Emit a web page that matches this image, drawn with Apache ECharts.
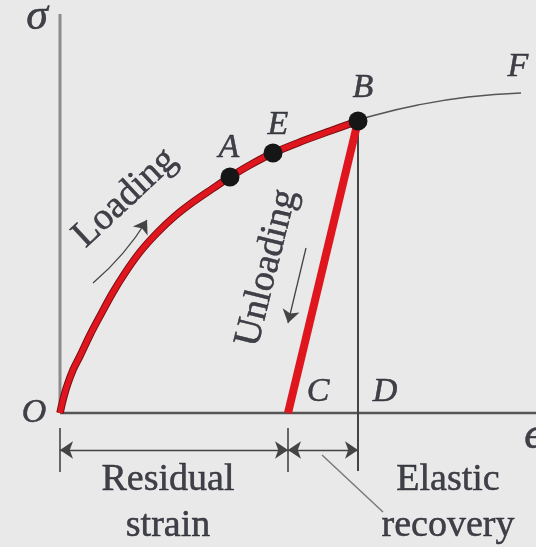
<!DOCTYPE html>
<html>
<head>
<meta charset="utf-8">
<script src="https://cdn.jsdelivr.net/npm/echarts@6/dist/echarts.min.js"></script>
<style>
html, body { margin: 0; padding: 0; background: #e9e9e9; }
#chart { width: 536px; height: 547px; }
</style>
</head>
<body>
<div id="chart"></div>
<script>
// stress-strain curve, units (x: strain, y: stress)
var loading = [[0, 0], [0.06, 0.325], [0.14, 0.675], [0.26, 1.075], [0.4, 1.425], [0.6, 1.95],
  [0.8, 2.425], [1.04, 2.975], [1.3, 3.5], [1.6, 4.025], [1.94, 4.5], [2.3, 4.925],
  [2.66, 5.275], [3.04, 5.6], [3.4, 5.9], [3.8, 6.2], [4.26, 6.5], [4.8, 6.775],
  [5.4, 7.05], [5.96, 7.3]];
var beyond = [[5.96, 7.3], [6.16, 7.4], [7.16, 7.7], [8.16, 7.9], [9.22, 8.0]];
var unloading = [[5.96, 7.3], [4.56, 0]];
var dots = [['A', 3.4, 5.9], ['E', 4.26, 6.5], ['B', 5.96, 7.3]];

var yAxisLine = [[0, 0], [0, 9.975]];
var xAxisLine = [[0, 0], [9.52, 0]];
var lineBD = [[5.96, 7.3], [5.96, -1.45]];
var ticks = [[[0, -0.375], [0, -1.475]], [[4.56, -0.375], [4.56, -1.475]]];
var dimArrows = [[[0, -0.925], [4.56, -0.925]], [[4.56, -0.925], [5.96, -0.925]]];
var leader = [[[5.24, -1.05], [6.46, -2.475]]];
var loadArrow = [[[0.66, 3.25], [1.74, 4.825]]];
var unloadArrow = [[[4.92, 4.125], [4.56, 2.25]]];

// [text, x, y, rotate]
var pointLabels = [['A', 3.38, 6.625], ['E', 4.36, 7.2], ['B', 6.06, 8.125], ['F', 9.16, 8.65],
  ['C', 5.16, 0.525], ['D', 6.5, 0.525], ['O', -0.52, 0]];
var axisLabels = [['σ', -0.46, 9.9], ['ϵ', 9.46, -0.575]];
var textLabels = [['Residual\nstrain', 2.16, -2.25, 0], ['Elastic\nrecovery', 7.76, -2.25, 0],
  ['Loading', 1.3, 5.375, 43], ['Unloading', 4.14, 3.625, 76]];

var chart = echarts.init(document.getElementById('chart'));
var ink = '#15151f';
var serif = "'Times New Roman', 'Liberation Serif', 'DejaVu Serif', serif";

function segs(list) {
  return list.map(function (c) { return { coords: c }; });
}
function labelSeries(list, font) {
  return {
    type: 'scatter',
    symbolSize: 0,
    z: 10,
    silent: true,
    data: list.map(function (d) {
      return {
        name: d[0],
        value: [d[1], d[2]],
        label: { rotate: d[3] || 0 }
      };
    }),
    label: Object.assign({
      show: true,
      position: 'inside',
      formatter: '{b}',
      color: ink,
      textBorderColor: ink,
      textBorderWidth: 0.5,
      fontFamily: serif
    }, font)
  };
}

var option = {
  backgroundColor: '#e9e9e9',
  animation: false,
  grid: { left: 0, right: 0, top: 0, bottom: 0 },
  xAxis: { type: 'value', min: -1.2, max: 9.52, show: false },
  yAxis: { type: 'value', min: -3.35, max: 10.325, show: false },
  series: [
    { type: 'line', data: yAxisLine, symbol: 'none', lineStyle: { color: '#8c8c8c', width: 3 }, z: 1 },
    { type: 'line', data: xAxisLine, symbol: 'none', lineStyle: { color: '#555', width: 2.5 }, z: 1 },
    { type: 'line', data: lineBD, symbol: 'none', lineStyle: { color: '#444', width: 2 }, z: 1 },
    {
      type: 'lines', coordinateSystem: 'cartesian2d', data: segs(ticks), z: 1,
      lineStyle: { color: '#666', width: 2, opacity: 1 }
    },
    {
      type: 'lines', coordinateSystem: 'cartesian2d', data: segs(dimArrows), z: 1,
      symbol: ['arrow', 'arrow'], symbolSize: 13,
      lineStyle: { color: '#444', width: 1.4, opacity: 1 }
    },
    {
      type: 'lines', coordinateSystem: 'cartesian2d', data: segs(leader), z: 1,
      lineStyle: { color: '#777', width: 1.4, opacity: 1 }
    },
    {
      type: 'lines', coordinateSystem: 'cartesian2d', data: segs(loadArrow), z: 1,
      symbol: ['none', 'arrow'], symbolSize: 13,
      lineStyle: { color: '#444', width: 1.3, opacity: 1, curveness: -0.08 }
    },
    {
      type: 'lines', coordinateSystem: 'cartesian2d', data: segs(unloadArrow), z: 1,
      symbol: ['none', 'arrow'], symbolSize: 13,
      lineStyle: { color: '#444', width: 1.3, opacity: 1 }
    },
    { type: 'line', data: beyond, smooth: true, symbol: 'none', lineStyle: { color: '#555', width: 1.5 }, z: 2 },
    { type: 'line', data: loading, smooth: 0.3, symbol: 'none', lineStyle: { color: '#7a0d12', width: 7.5 }, z: 3 },
    { type: 'line', data: loading, smooth: 0.3, symbol: 'none', lineStyle: { color: '#e0161e', width: 5.5 }, z: 4 },
    { type: 'line', data: unloading, symbol: 'none', lineStyle: { color: '#e0161e', width: 8 }, z: 4 },
    {
      type: 'scatter', z: 5, symbolSize: 19,
      itemStyle: { color: '#161616', opacity: 1 },
      data: dots.map(function (d) { return { name: d[0], value: [d[1], d[2]] }; })
    },
    labelSeries(pointLabels, { fontSize: 34, fontStyle: 'italic' }),
    labelSeries(axisLabels, { fontSize: 44, fontStyle: 'italic' }),
    labelSeries(textLabels, { fontSize: 38, lineHeight: 46 })
  ]
};
chart.setOption(option);
</script>
</body>
</html>
